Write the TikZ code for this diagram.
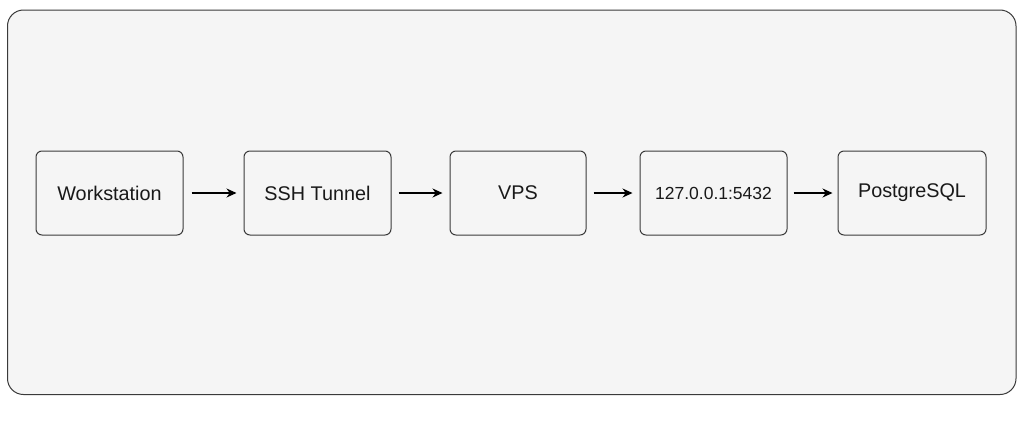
\documentclass[tikz,border=0pt]{standalone}
\usepackage{fontspec}
\setmainfont{Liberation Sans}
\usetikzlibrary{arrows.meta}
\definecolor{panel}{HTML}{F5F5F5}
\definecolor{edge}{HTML}{3A3A3A}
\begin{document}
\begin{tikzpicture}[x=1pt,y=-1pt,
  stepbox/.style={draw=edge,line width=1pt,rounded corners=6pt,minimum height=84pt,inner sep=0pt,font=\fontsize{19.8}{22}\selectfont,text=black!90},
  flow/.style={-{Stealth[length=10pt,width=9pt]},line width=1.1pt,black}]
\fill[white] (0,0) rectangle (1024,439);
\useasboundingbox (0,0) rectangle (1024,439);
\draw[edge,line width=1pt,fill=panel,rounded corners=16pt] (7.5,10) rectangle (1016,394.5);
\node[stepbox,minimum width=147pt] (ws) at (109.5,193) {Workstation};
\node[stepbox,minimum width=147pt] (ssh) at (317.5,193) {SSH Tunnel};
\node[stepbox,minimum width=136pt] (vps) at (518,193) {VPS};
\node[stepbox,minimum width=147pt,font=\fontsize{17.5}{20}\selectfont] (ip) at (713.5,193) {127.0.0.1:5432};
\node[stepbox,minimum width=148pt] (pg) at (912,193) {PostgreSQL};
\draw[flow,shorten <=8pt,shorten >=7pt] (ws) -- (ssh);
\draw[flow,shorten <=7pt,shorten >=7pt] (ssh) -- (vps);
\draw[flow,shorten <=7pt,shorten >=7pt] (vps) -- (ip);
\draw[flow,shorten <=6pt,shorten >=5pt] (ip) -- (pg);
\end{tikzpicture}
\end{document}
